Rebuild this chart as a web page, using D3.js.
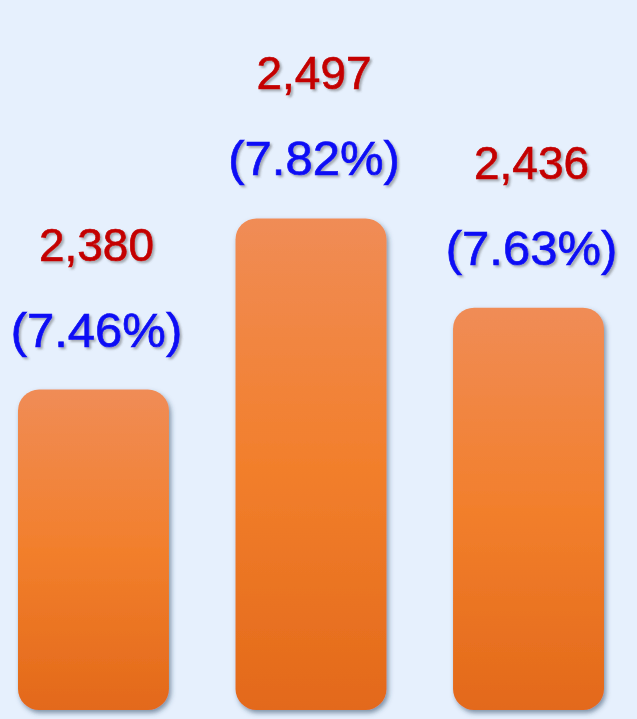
<!DOCTYPE html>
<html>
<head>
<meta charset="utf-8">
<script src="https://cdn.jsdelivr.net/npm/d3@7"></script>
<style>
  html, body { margin: 0; padding: 0; background: #e6f0fd; }
  svg { display: block; }
</style>
</head>
<body>
<div class="chart"></div>
<script>

// data (categories are not labelled in the original)
const categories = ["first", "second", "third"]
const counts = [2380, 2497, 2436]
const shares = [7.46, 7.82, 7.63]

const dataset = categories.map((c, i) => ({ cat: c, count: counts[i], share: shares[i] }))

function drawBars () {

let dimensions = {
    width: 637,
    height: 719,
    baseline: 710,
    top: 214,
}

const wrapper = d3.select(".chart")
    .append("svg")
    .attr("width", dimensions.width)
    .attr("height", dimensions.height)

wrapper.append("rect")
    .attr("width", dimensions.width)
    .attr("height", dimensions.height)
    .attr("fill", "#e6f0fd")

const defs = wrapper.append("defs")

const grad = defs.append("linearGradient")
    .attr("id", "barFill")
    .attr("x1", 0).attr("y1", 0)
    .attr("x2", 0).attr("y2", 1)
grad.append("stop").attr("offset", "0%").attr("stop-color", "#f08c56")
grad.append("stop").attr("offset", "50%").attr("stop-color", "#f27f2c")
grad.append("stop").attr("offset", "100%").attr("stop-color", "#e3691a")

const barShadow = defs.append("filter")
    .attr("id", "barShadow")
    .attr("x", "-10%").attr("y", "-10%")
    .attr("width", "125%").attr("height", "125%")
barShadow.append("feDropShadow")
    .attr("dx", 2).attr("dy", 3)
    .attr("stdDeviation", 2.5)
    .attr("flood-color", "#2b4460")
    .attr("flood-opacity", 0.55)

const textShadow = defs.append("filter")
    .attr("id", "textShadow")
    .attr("x", "-10%").attr("y", "-20%")
    .attr("width", "125%").attr("height", "150%")
textShadow.append("feDropShadow")
    .attr("dx", 2).attr("dy", 2)
    .attr("stdDeviation", 1.2)
    .attr("flood-color", "#555")
    .attr("flood-opacity", 0.45)

const x = d3.scaleBand()
    .domain(categories)
    .range([18, 604])
    .paddingInner(0.306)
    .paddingOuter(0)

const y = d3.scaleLinear()
    .domain([2161, 2500])
    .range([dimensions.baseline, dimensions.top])

const bounds = wrapper.append("g")

bounds.selectAll(".bar")
    .data(dataset)
    .join("rect")
    .attr("class", "bar")
    .attr("x", d => x(d.cat))
    .attr("y", d => y(d.count))
    .attr("width", x.bandwidth())
    .attr("height", d => y.range()[0] - y(d.count))
    .attr("rx", 21)
    .attr("ry", 21)
    .attr("fill", "url(#barFill)")
    .attr("filter", "url(#barShadow)")

const fmt = d3.format(",")

bounds.selectAll(".count")
    .data(dataset)
    .join("text")
    .attr("class", "count")
    .attr("x", d => x(d.cat) + x.bandwidth() / 2 + 3)
    .attr("y", d => y(d.count) - 129)
    .attr("text-anchor", "middle")
    .attr("font-family", "'Liberation Sans', Arial, sans-serif")
    .attr("font-size", 46)
    .attr("fill", "#c40000")
    .attr("stroke", "#c40000")
    .attr("stroke-width", 0.7)
    .attr("filter", "url(#textShadow)")
    .text(d => fmt(d.count))

bounds.selectAll(".share")
    .data(dataset)
    .join("text")
    .attr("class", "share")
    .attr("x", d => x(d.cat) + x.bandwidth() / 2 + 3)
    .attr("y", d => y(d.count) - 43)
    .attr("text-anchor", "middle")
    .attr("font-family", "'Liberation Sans', Arial, sans-serif")
    .attr("font-size", 49)
    .attr("fill", "#0a0af5")
    .attr("stroke", "#0a0af5")
    .attr("stroke-width", 0.7)
    .attr("filter", "url(#textShadow)")
    .text(d => `(${d.share.toFixed(2)}%)`)

}

drawBars()
</script>
</body>
</html>
